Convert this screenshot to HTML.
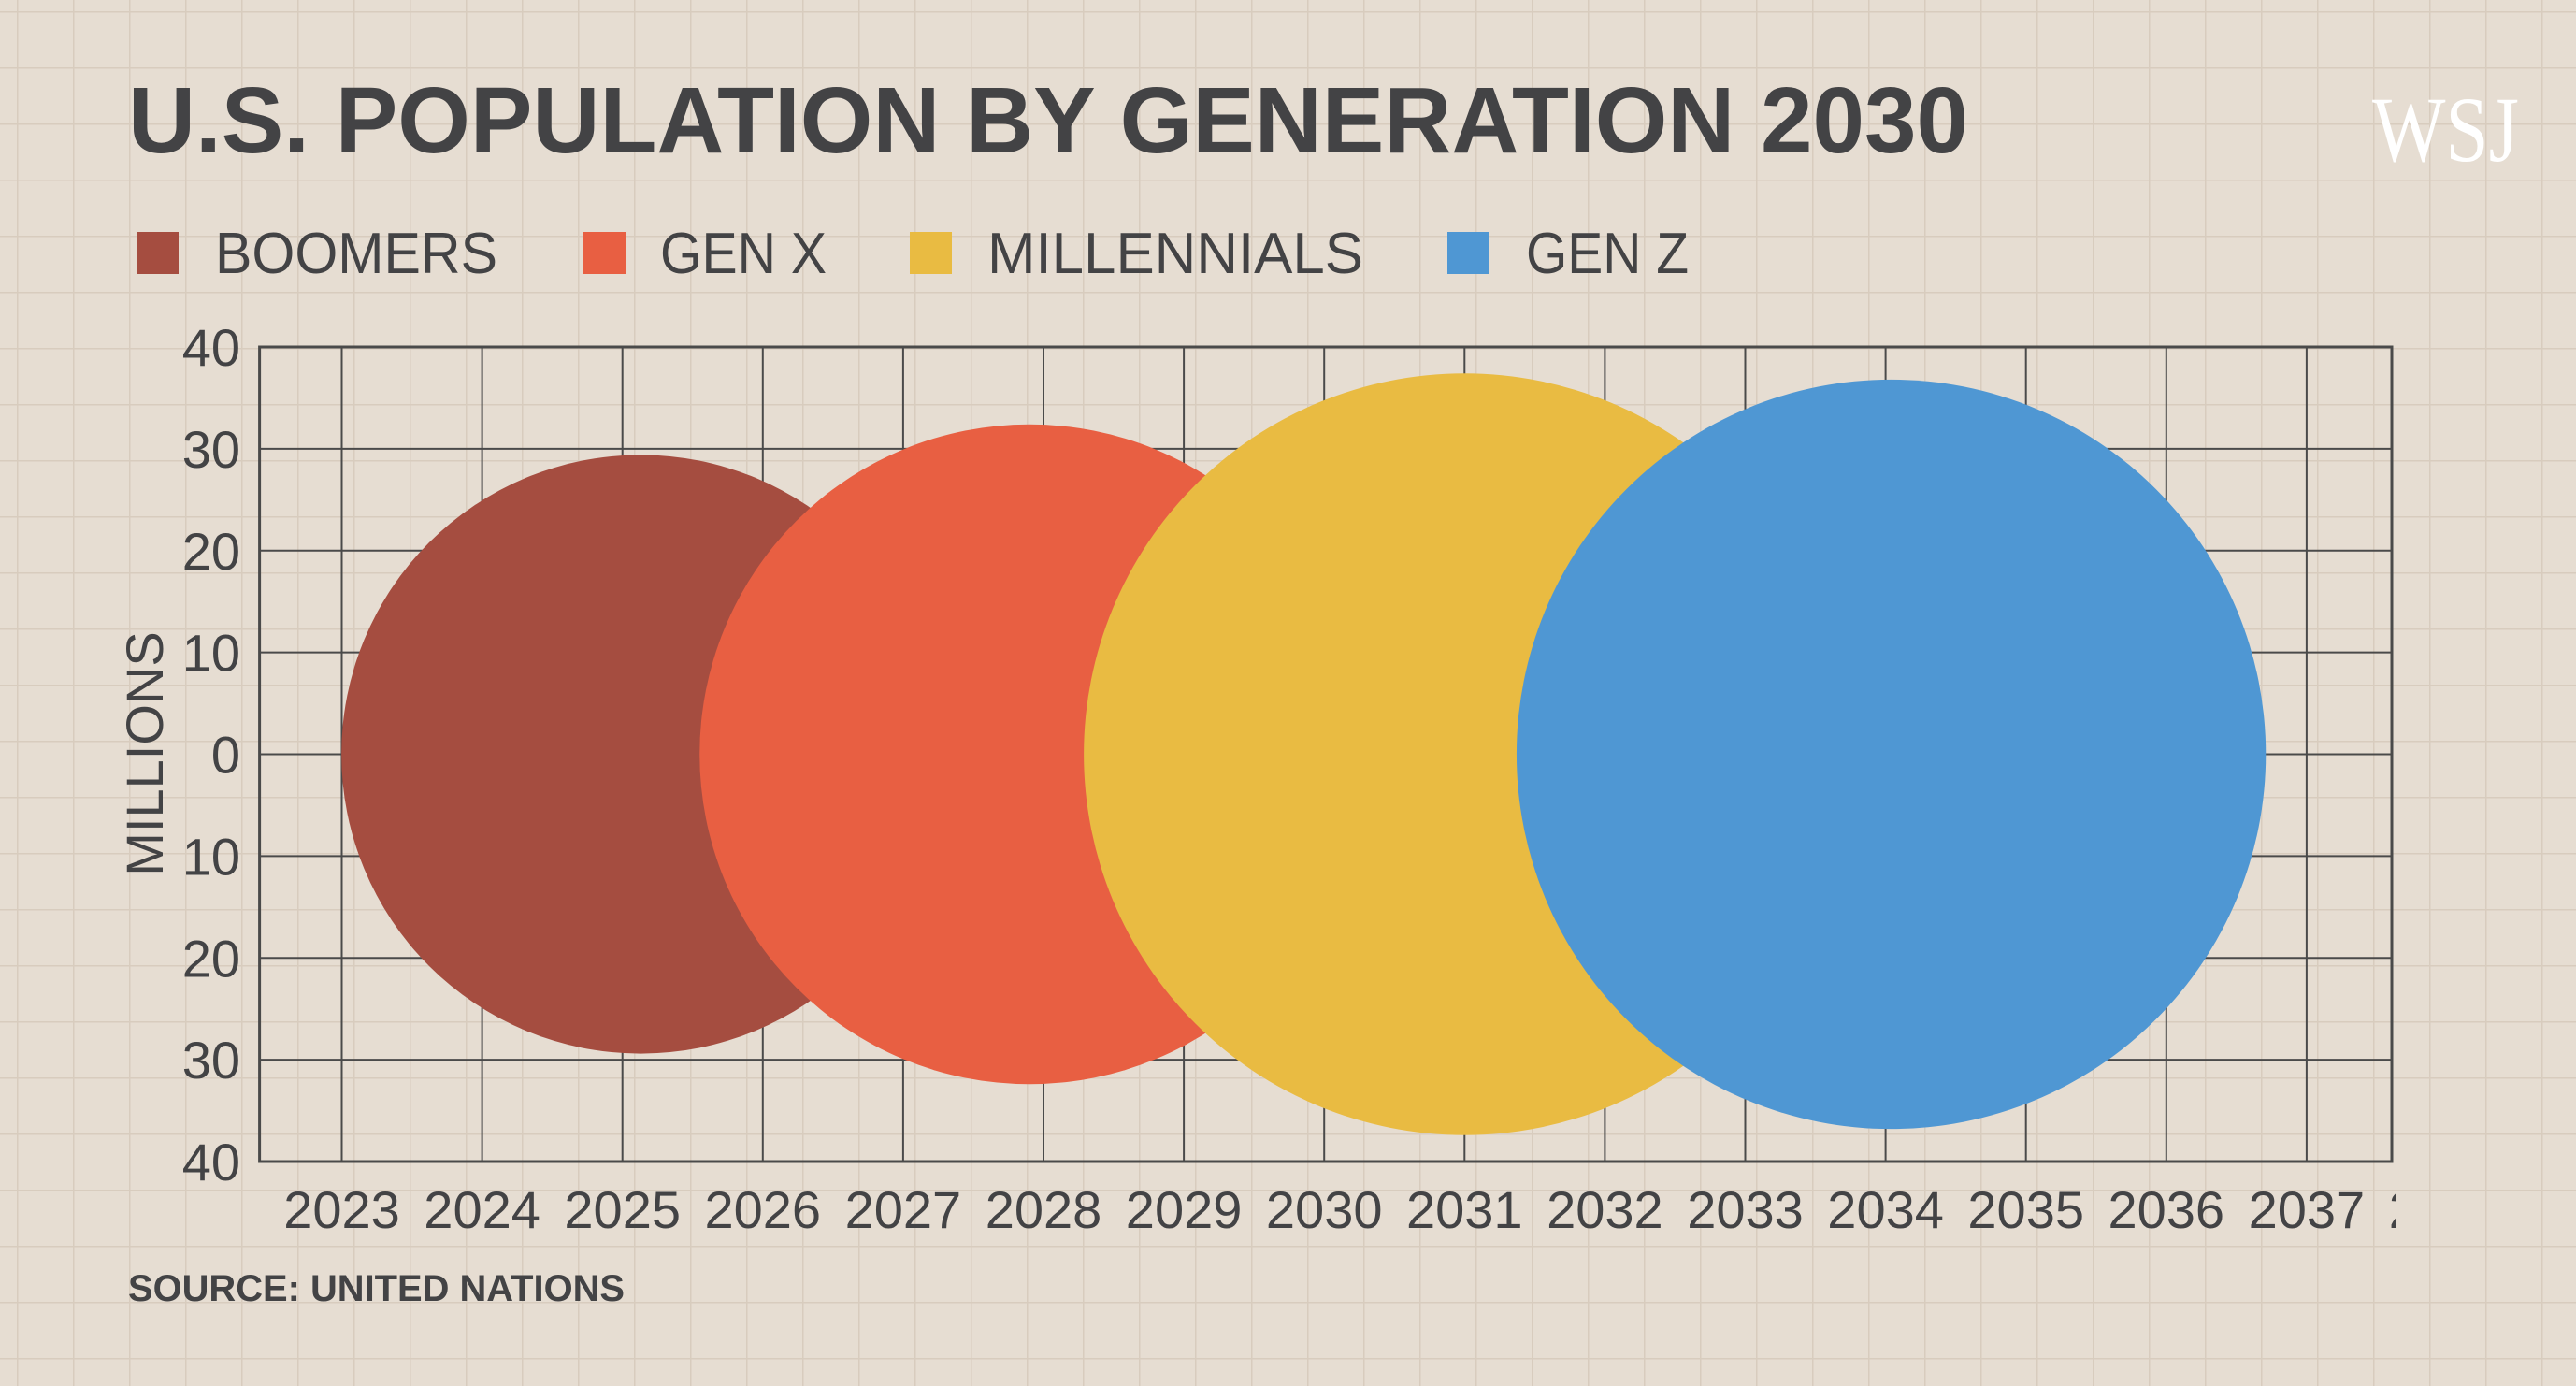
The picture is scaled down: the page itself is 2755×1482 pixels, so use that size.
<!DOCTYPE html>
<html><head><meta charset="utf-8"><style>
html,body{margin:0;padding:0;background:#e6ddd2;}
svg{display:block;font-family:"Liberation Sans",sans-serif;}
</style></head><body>
<svg id="chart" width="2755" height="1482" viewBox="0 0 2755 1482" xmlns="http://www.w3.org/2000/svg">
<defs>
<pattern id="paper" x="18" y="12" width="60" height="60" patternUnits="userSpaceOnUse">
<path d="M0 0 H60 M0 0 V60" stroke="#d8ccbe" stroke-width="3" fill="none"/>
</pattern>
<clipPath id="xclip"><rect x="0" y="0" width="2562" height="1482"/></clipPath>
</defs>
<rect x="0" y="0" width="2755" height="1482" fill="#e6ddd2"/>
<rect x="0" y="0" width="2755" height="1482" fill="url(#paper)"/>
<text x="137" y="163" font-size="100" font-weight="bold" fill="#434345" textLength="1968" lengthAdjust="spacingAndGlyphs">U.S. POPULATION BY GENERATION 2030</text>
<text x="2537" y="172" font-family="Liberation Serif, serif" font-size="100" fill="#ffffff" textLength="157" lengthAdjust="spacingAndGlyphs">WSJ</text>
<g id="legend"></g>
<g id="grid"></g>
<g id="bubbles"></g>
<g id="yticks"></g>
<g id="xticks" clip-path="url(#xclip)"></g>
<text transform="translate(174,806) rotate(-90)" text-anchor="middle" font-size="56" fill="#434345">MILLIONS</text>
<text x="137" y="1391" font-size="40" font-weight="bold" fill="#434345" textLength="531" lengthAdjust="spacingAndGlyphs">SOURCE: UNITED NATIONS</text>
</svg>
<script>
const generations = ["BOOMERS", "GEN X", "MILLENNIALS", "GEN Z"];
const centerYears = [2025.13, 2027.9, 2031.0, 2034.04];
const populations = [29.4, 32.4, 37.4, 36.8];
const colors = ["#a54d40", "#e85f42", "#e9bb42", "#4f97d3"];
const xTicks = [2023,2024,2025,2026,2027,2028,2029,2030,2031,2032,2033,2034,2035,2036,2037,2038];
const yTicks = [40,30,20,10,0,-10,-20,-30,-40];

const NS = "http://www.w3.org/2000/svg";
const L = 277.6, R = 2558, T = 371, B = 1242;
const X0 = 365.5, XS = 150.1;
const x = yr => X0 + (yr - 2023) * XS;
const y = v => 806.5 - v * (B - T) / 80;
const r = v => v * (B - T) / 80;
function mk(tag, attrs, parent){const e=document.createElementNS(NS,tag);for(const k in attrs)e.setAttribute(k,attrs[k]);parent.appendChild(e);return e;}

const grid = document.getElementById('grid');
xTicks.forEach(t => { const px = x(t); if (px > L && px < R) {
  const ln = mk('line',{x1:px,x2:px,y1:T,y2:B,stroke:'#4a4a4a','stroke-width':2},grid);
  
  
}});
yTicks.forEach(t => {
  const ln = mk('line',{x1:L,x2:R,y1:y(t),y2:y(t),stroke:'#4a4a4a','stroke-width':2},grid);
  
  
});
const frame = mk('rect',{x:L,y:T,width:R-L,height:B-T,fill:'none',stroke:'#4a4a4a','stroke-width':3},grid);



const bub = document.getElementById('bubbles');
generations.forEach((g,i) => {
  const c = mk('circle',{cx:x(centerYears[i]),cy:y(0),r:r(populations[i]),fill:colors[i]},bub);
  
  
});

const yt = document.getElementById('yticks');
yTicks.forEach(t => {
  const tx = mk('text',{x:257,y:y(t)+20,'text-anchor':'end','font-size':56,fill:'#434345'},yt);
  tx.textContent = Math.abs(t);
  
  
});
const xt = document.getElementById('xticks');
xTicks.forEach(t => {
  const tx = mk('text',{x:x(t),y:1313,'text-anchor':'middle','font-size':56,fill:'#434345'},xt);
  tx.textContent = t;
  
  
});

const leg = document.getElementById('legend');
const legSq = [146, 624, 973, 1548];
const legTx = [230, 706, 1056, 1632];
const legW = [302, 178, 402, 174];
generations.forEach((g,i) => {
  const s = mk('rect',{x:legSq[i],y:248,width:45,height:45,fill:colors[i]},leg);
  
  
  const tx = mk('text',{x:legTx[i],y:292,'font-size':62,fill:'#434345',textLength:legW[i],lengthAdjust:'spacingAndGlyphs'},leg);
  tx.textContent = g;
  
  
});
</script>
</body></html>
